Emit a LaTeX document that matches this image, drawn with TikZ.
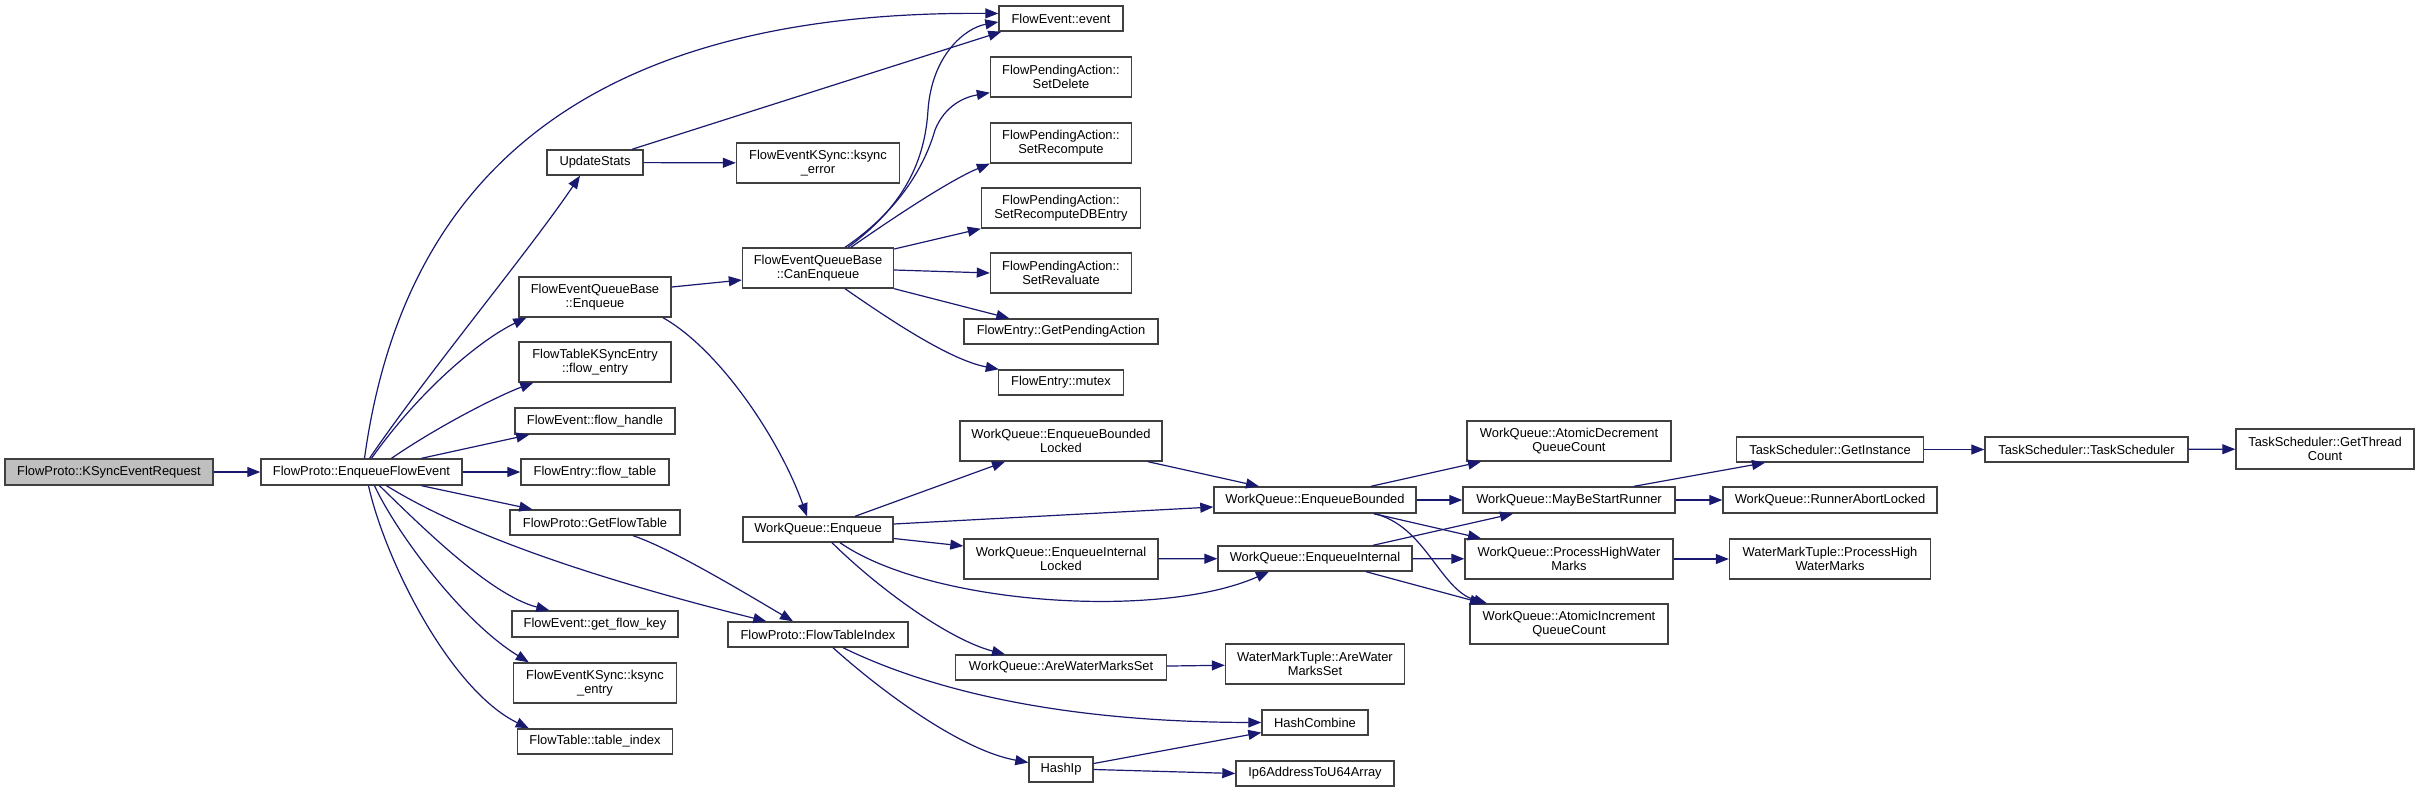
\documentclass[tikz,border=0pt]{standalone}
\usepackage{fontspec}
\setmainfont{Liberation Sans}
\usetikzlibrary{arrows.meta}
\definecolor{edgecol}{HTML}{191970}
\definecolor{boxcol}{HTML}{404040}
\definecolor{rootfill}{HTML}{BFBFBF}
\begin{document}
\begin{tikzpicture}[x=1pt,y=-1pt,
  box/.style={draw=boxcol, line width=1.4pt, fill=white, inner sep=0pt, align=center,
    font=\fontsize{12.9}{14.5}\selectfont},
  edge/.style={draw=edgecol, line width=1.2pt, -{Triangle[length=13pt,width=10pt]}}]
\useasboundingbox (0,0) rectangle (2419,792);
\fill[white] (0,0) rectangle (2419,792);
% column 1
\node[box, fill=rootfill, minimum width=208pt, minimum height=26pt] (root) at (109,472) {FlowProto::KSyncEventRequest};
\node[box, minimum width=201pt, minimum height=26pt] (efe) at (361.5,472) {FlowProto::EnqueueFlowEvent};
% column 2
\node[box, minimum width=96pt, minimum height=25pt] (upd) at (595,162.5) {UpdateStats};
\node[box, minimum width=152pt, minimum height=40pt] (feqb) at (595,297) {FlowEventQueueBase\\::Enqueue};
\node[box, minimum width=152pt, minimum height=40pt] (fentry) at (595,362) {FlowTableKSyncEntry\\::flow\_entry};
\node[box, minimum width=160pt, minimum height=26pt] (fhandle) at (595,421) {FlowEvent::flow\_handle};
\node[box, minimum width=148pt, minimum height=26pt] (ftable) at (595,472) {FlowEntry::flow\_table};
\node[box, minimum width=170pt, minimum height=25pt] (gft) at (595,522.5) {FlowProto::GetFlowTable};
\node[box, minimum width=166pt, minimum height=26pt] (gfk) at (595,624) {FlowEvent::get\_flow\_key};
\node[box, minimum width=163pt, minimum height=40pt] (kentry) at (595,683) {FlowEventKSync::ksync\\\_entry};
\node[box, minimum width=155pt, minimum height=25pt] (tidx) at (595,741.5) {FlowTable::table\_index};
% column 3
\node[box, minimum width=163pt, minimum height=40pt] (kerror) at (818,163) {FlowEventKSync::ksync\\\_error};
\node[box, minimum width=151pt, minimum height=40pt] (canenq) at (818,268) {FlowEventQueueBase\\::CanEnqueue};
\node[box, minimum width=150pt, minimum height=25pt] (wqenq) at (818,529.5) {WorkQueue::Enqueue};
\node[box, minimum width=180pt, minimum height=25pt] (fti) at (818,634.5) {FlowProto::FlowTableIndex};
% column 4
\node[box, minimum width=124pt, minimum height=25pt] (event) at (1061,18.5) {FlowEvent::event};
\node[box, minimum width=141pt, minimum height=40pt] (sdel) at (1061,77) {FlowPendingAction::\\SetDelete};
\node[box, minimum width=141pt, minimum height=40pt] (srec) at (1061,143) {FlowPendingAction::\\SetRecompute};
\node[box, minimum width=159pt, minimum height=40pt] (srdb) at (1061,208) {FlowPendingAction::\\SetRecomputeDBEntry};
\node[box, minimum width=141pt, minimum height=40pt] (srev) at (1061,273) {FlowPendingAction::\\SetRevaluate};
\node[box, minimum width=194pt, minimum height=25pt] (gpa) at (1061,331.5) {FlowEntry::GetPendingAction};
\node[box, minimum width=125pt, minimum height=25pt] (mutex) at (1061,382.5) {FlowEntry::mutex};
\node[box, minimum width=202pt, minimum height=40pt] (ebl) at (1061,441) {WorkQueue::EnqueueBounded\\Locked};
\node[box, minimum width=194pt, minimum height=40pt] (eil) at (1061,559) {WorkQueue::EnqueueInternal\\Locked};
\node[box, minimum width=211pt, minimum height=25pt] (awms) at (1061,667.5) {WorkQueue::AreWaterMarksSet};
\node[box, minimum width=64pt, minimum height=25pt] (haship) at (1061,769.5) {HashIp};
% column 5
\node[box, minimum width=202pt, minimum height=26pt] (eb) at (1315,500) {WorkQueue::EnqueueBounded};
\node[box, minimum width=194pt, minimum height=25pt] (ei) at (1315,558.5) {WorkQueue::EnqueueInternal};
\node[box, minimum width=179pt, minimum height=40pt] (wawms) at (1315,664) {WaterMarkTuple::AreWater\\MarksSet};
\node[box, minimum width=106pt, minimum height=25pt] (hc) at (1315,722.5) {HashCombine};
\node[box, minimum width=158pt, minimum height=25pt] (ip6) at (1315,773.5) {Ip6AddressToU64Array};
% column 6
\node[box, minimum width=204pt, minimum height=40pt] (ad) at (1569,441) {WorkQueue::AtomicDecrement\\QueueCount};
\node[box, minimum width=212pt, minimum height=26pt] (mbsr) at (1569,500) {WorkQueue::MayBeStartRunner};
\node[box, minimum width=208pt, minimum height=40pt] (phwm) at (1569,559) {WorkQueue::ProcessHighWater\\Marks};
\node[box, minimum width=198pt, minimum height=40pt] (ai) at (1569,624) {WorkQueue::AtomicIncrement\\QueueCount};
% column 7-9
\node[box, minimum width=187pt, minimum height=25pt] (gi) at (1830,449.5) {TaskScheduler::GetInstance};
\node[box, minimum width=214pt, minimum height=26pt] (ral) at (1830,500) {WorkQueue::RunnerAbortLocked};
\node[box, minimum width=201pt, minimum height=40pt] (wphwm) at (1830,559) {WaterMarkTuple::ProcessHigh\\WaterMarks};
\node[box, minimum width=203pt, minimum height=25pt] (ts) at (2086.5,449.5) {TaskScheduler::TaskScheduler};
\node[box, minimum width=178pt, minimum height=40pt] (gtc) at (2325,449) {TaskScheduler::GetThread\\Count};

% edges from EnqueueFlowEvent
\draw[edge] (root) -- (efe);
\draw[edge] ([xshift=3pt]efe.north) .. controls (400,200) and (560,10) .. ([yshift=5pt]event.west);
\draw[edge] ([xshift=8pt]efe.north) .. controls (430,370) and (530,250) .. ([xshift=-15pt]upd.south);
\draw[edge] ([xshift=10pt]efe.north) .. controls (420,390) and (480,340) .. ([xshift=8pt]feqb.south west);
\draw[edge] ([xshift=30pt]efe.north) .. controls (440,425) and (500,395) .. ([xshift=15pt]fentry.south west);
\draw[edge] ([xshift=60pt]efe.north) -- ([xshift=15pt]fhandle.south west);
\draw[edge] (efe) -- (ftable);
\draw[edge] ([xshift=60pt]efe.south) -- ([xshift=23pt]gft.north west);
\draw[edge] ([xshift=25pt]efe.south) .. controls (450,525) and (560,570) .. ([xshift=39pt]fti.north west);
\draw[edge] ([xshift=18pt]efe.south) .. controls (420,525) and (490,595) .. ([xshift=38pt]gfk.north west);
\draw[edge] ([xshift=13pt]efe.south) .. controls (395,530) and (460,620) .. ([xshift=16pt]kentry.north west);
\draw[edge] ([xshift=7pt]efe.south) .. controls (385,560) and (450,690) .. ([xshift=12pt]tidx.north west);
% UpdateStats
\draw[edge] ([xshift=37pt]upd.north) -- ([xshift=3pt]event.south west);
\draw[edge] (upd) -- (kerror);
% FlowEventQueueBase::Enqueue
\draw[edge] ([yshift=10pt]feqb.east) -- ([yshift=-12pt]canenq.west);
\draw[edge] ([xshift=68pt]feqb.south) .. controls (720,350) and (780,440) .. ([xshift=-11pt]wqenq.north);
% CanEnqueue
\draw[edge] ([xshift=30pt]canenq.north) .. controls (905,205) and (925,160) .. (928,110)
  .. controls (932,55) and (965,28) .. ([yshift=-3.5pt]event.west);
\draw[edge] ([xshift=27pt]canenq.north) .. controls (900,210) and (925,165) .. (935,130)
  .. controls (945,105) and (965,97) .. ([yshift=5pt]sdel.south west);
\draw[edge] ([xshift=33pt]canenq.north) .. controls (890,220) and (950,180) .. (srec.south west);
\draw[edge] ([yshift=19pt]canenq.east) -- (srdb.south west);
\draw[edge] ([yshift=-2pt]canenq.east) -- (srev.west);
\draw[edge] (canenq.south east) -- ([xshift=46pt]gpa.north west);
\draw[edge] ([xshift=27pt]canenq.south) .. controls (890,320) and (950,360) .. ([xshift=1pt]mutex.north west);
% GetFlowTable
\draw[edge] ([xshift=38pt]gft.south) .. controls (670,548) and (740,590) .. ([xshift=-25pt]fti.north);
% WorkQueue::Enqueue
\draw[edge] ([xshift=37pt]wqenq.north) -- ([xshift=-56pt]ebl.south);
\draw[edge] ([yshift=5.5pt]wqenq.east) -- ([yshift=-7pt]eb.west);
\draw[edge] ([yshift=-9pt]wqenq.east) -- ([yshift=13pt]eil.west);
\draw[edge] ([xshift=22pt]wqenq.south) .. controls (930,605) and (1160,620) .. ([xshift=-46pt]ei.south);
\draw[edge] ([xshift=14pt]wqenq.south) .. controls (880,590) and (950,640) .. ([xshift=-56pt]awms.north);
% locked variants
\draw[edge] ([xshift=87pt]ebl.south) -- ([xshift=-56pt]eb.north);
\draw[edge] (eil) -- (ei);
% EnqueueBounded
\draw[edge] ([xshift=56pt]eb.north) -- ([xshift=-88pt]ad.south);
\draw[edge] (eb) -- (mbsr);
\draw[edge] ([xshift=59pt]eb.south) -- ([xshift=-88pt]phwm.north);
\draw[edge] ([xshift=59pt]eb.south) .. controls (1425,525) and (1440,590) .. ([xshift=-82pt]ai.north);
% EnqueueInternal
\draw[edge] ([xshift=58pt]ei.north) -- ([xshift=-56pt]mbsr.south);
\draw[edge] (ei) -- (phwm);
\draw[edge] ([xshift=51pt]ei.south) -- ([xshift=-86pt]ai.north);
% right side
\draw[edge] ([xshift=65pt]mbsr.north) -- ([xshift=-65pt]gi.south);
\draw[edge] (mbsr) -- (ral);
\draw[edge] (gi) -- (ts);
\draw[edge] (ts) -- (gtc);
\draw[edge] (phwm) -- (wphwm);
\draw[edge] (awms) -- (wawms);
% FlowTableIndex
\draw[edge] ([xshift=25pt]fti.south) .. controls (930,690) and (1060,722) .. (hc.west);
\draw[edge] ([xshift=15pt]fti.south) .. controls (880,690) and (960,750) .. ([yshift=7pt]haship.west);
\draw[edge] ([yshift=6pt]haship.east) -- ([yshift=-10pt]hc.west);
\draw[edge] (haship.east) -- (ip6.west);
\end{tikzpicture}
\end{document}
